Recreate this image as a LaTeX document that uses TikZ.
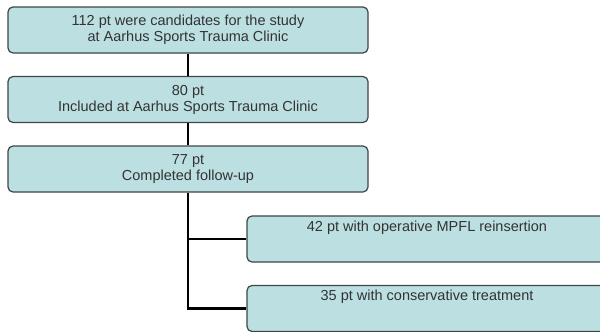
\documentclass[tikz,border=0pt]{standalone}
\usepackage{fontspec}
\setmainfont{Liberation Sans}
\definecolor{boxfill}{HTML}{BCDFE2}
\definecolor{boxline}{HTML}{3E4646}
\tikzset{
  flowbox/.style={draw=boxline, line width=1.2pt, fill=boxfill, rounded corners=5pt,
    minimum width=360pt, minimum height=46pt, inner sep=0pt, align=center,
    font=\fontsize{14.5}{16}\selectfont, text=black!80},
  sidebox/.style={flowbox},
  boxtext/.style={font=\fontsize{14.5}{16}\selectfont, text=black!80, anchor=north},
  conn/.style={line width=2.5pt, black}
}
\begin{document}
\begin{tikzpicture}[x=1pt,y=-1pt]
\useasboundingbox[fill=white] (0,0) rectangle (600,332);
\clip (0,0) rectangle (600,332);
\node[flowbox] (b1) at (188,30) {112 pt were candidates for the study\\at Aarhus Sports Trauma Clinic};
\node[flowbox] (b2) at (188,99.5) {80 pt\\Included at Aarhus Sports Trauma Clinic};
\node[flowbox] (b3) at (188,169) {77 pt\\Completed follow-up};
\node[sidebox] (b4) at (427,239) {};
\node[sidebox] (b5) at (427,308.5) {};
\node[boxtext] (t4) at ([yshift=-2pt]b4.north) {42 pt with operative MPFL reinsertion};
\node[boxtext] (t5) at ([yshift=-2pt]b5.north) {35 pt with conservative treatment};
\coordinate (j1) at (b3.south |- b4.west);
\coordinate (j2) at (b3.south |- b5.west);
\draw[conn] (b1) -- (b2);
\draw[conn] (b2) -- (b3);
\draw[conn] (b3.south) -- (j2) -- (b5.west);
\draw[conn] (j1) -- (b4.west);
\end{tikzpicture}
\end{document}
